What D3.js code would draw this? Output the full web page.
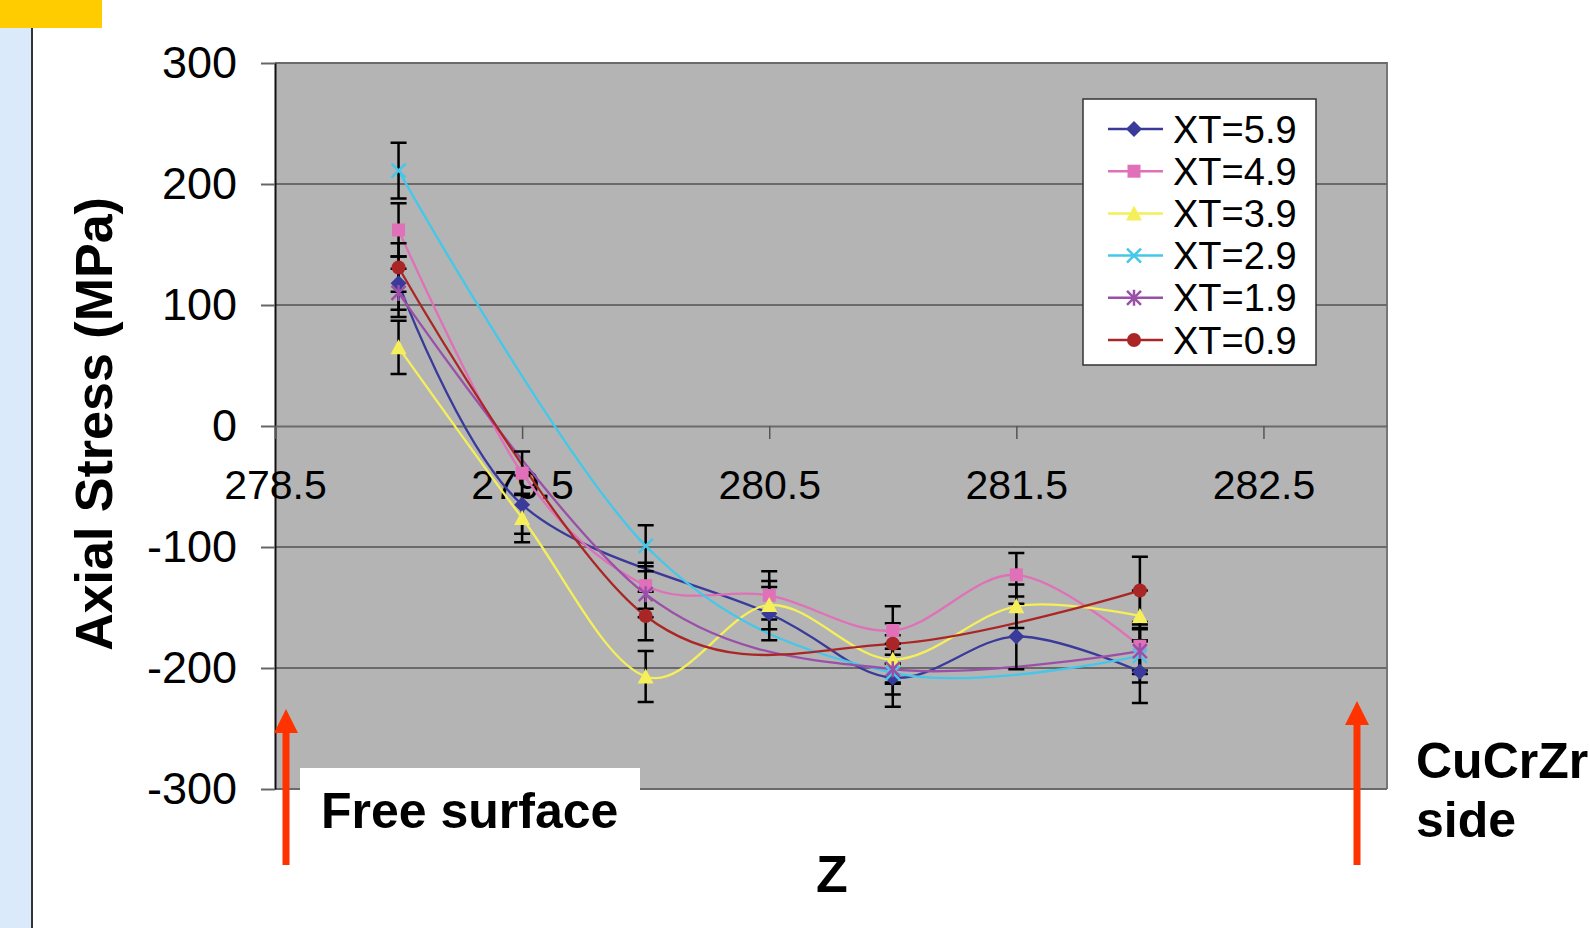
<!DOCTYPE html>
<html>
<head>
<meta charset="utf-8">
<script src="https://cdn.jsdelivr.net/npm/d3@7"></script>
<style>
  body { margin: 0; background: #fff; }
  svg { display: block; font-family: "Liberation Sans", Arial, sans-serif; }
</style>
</head>
<body>
<div id="chart"></div>
<script>
// Z positions of the measurement points
var zValues = [279, 279.5, 280, 280.5, 281, 281.5, 282];
var xTicks = [278.5, 279.5, 280.5, 281.5, 282.5];
var yTicks = [-300, -200, -100, 0, 100, 200, 300];

// axial stress (MPa) per series, null = no measurement
var seriesNames = ["XT=5.9", "XT=4.9", "XT=3.9", "XT=2.9", "XT=1.9", "XT=0.9"];
var xt59 = [118, -65, null, -155, -208, -174, -203];
var xt49 = [162, -39, -132, -140, -169, -123, -182];
var xt39 = [65, -76, -207, -148, -193, -149, -157];
var xt29 = [211, null, -99, null, -204, null, -190];
var xt19 = [110, null, -139, null, -201, null, -186];
var xt09 = [131, null, -157, null, -180, null, -136];

// error bar half-widths (MPa)
var err59 = [22, 24, null, 22, 24, 27, 26];
var err49 = [22, 18, 19, 20, 20, 18, 20];
var err39 = [22, 20, 21, 20, 20, 18, 21];
var err29 = [23, null, 17, null, 8, null, 22];
var err19 = [20, null, 19, null, 21, null, 19];
var err09 = [20, null, 20, null, 17, null, 28];

var colors = ["#3a3a9a", "#e070b8", "#f5ef5a", "#44c8ea", "#9a4fa8", "#aa2626"];
var markers = ["diamond", "square", "triangle", "x", "star", "circle"];

var width = 1590, height = 928;
var svg = d3.select("#chart").append("svg")
    .attr("width", width)
    .attr("height", height);

// slide decorations
svg.append("rect").attr("x", 0).attr("y", 28).attr("width", 31).attr("height", height - 28).attr("fill", "#dbeafb");
svg.append("rect").attr("x", 0).attr("y", 0).attr("width", 102).attr("height", 28).attr("fill", "#ffcc00");
svg.append("line").attr("x1", 32).attr("x2", 32).attr("y1", 28).attr("y2", height)
    .attr("stroke", "#333").attr("stroke-width", 2);

var x = d3.scaleLinear().domain([278.5, 283]).range([275, 1387]);
var y = d3.scaleLinear().domain([-300, 300]).range([789, 63]);

// plot area
svg.append("rect")
    .attr("x", x(278.5)).attr("y", y(300))
    .attr("width", x(283) - x(278.5)).attr("height", y(-300) - y(300))
    .attr("fill", "#b4b4b4");
svg.append("path")
    .attr("d", "M" + x(278.5) + "," + y(300) + "H" + x(283) + "V" + y(-300))
    .attr("fill", "none").attr("stroke", "#777").attr("stroke-width", 2);

// gridlines
svg.append("g").selectAll("line")
    .data(yTicks.filter(function (d) { return d !== 0; }))
    .enter().append("line")
    .attr("x1", x(278.5)).attr("x2", x(283))
    .attr("y1", function (d) { return y(d); })
    .attr("y2", function (d) { return y(d); })
    .attr("stroke", "#6a6a6a").attr("stroke-width", 2);

// y axis
var axisY = svg.append("g")
    .attr("transform", "translate(" + x(278.5) + ",0)")
    .call(d3.axisLeft(y).tickValues(yTicks).tickFormat(function (d) { return String(d); })
        .tickSize(14).tickPadding(24).tickSizeOuter(0));
axisY.select(".domain").attr("stroke", "#111").attr("stroke-width", 2);
axisY.selectAll(".tick line").attr("stroke", "#666").attr("stroke-width", 2);
axisY.selectAll("text").attr("font-size", 45).attr("fill", "#000")
    .attr("font-family", "Liberation Sans, Arial, sans-serif");

// x axis along zero
var axisX = svg.append("g")
    .attr("transform", "translate(0," + y(0) + ")")
    .call(d3.axisBottom(x).tickValues(xTicks).tickFormat(d3.format(".1f"))
        .tickSize(13).tickPadding(31).tickSizeOuter(0));
axisX.select(".domain").attr("stroke", "#6a6a6a").attr("stroke-width", 2);
axisX.selectAll(".tick line").attr("stroke", "#555").attr("stroke-width", 1.5);
axisX.selectAll("text").attr("font-size", 41).attr("fill", "#000")
    .attr("font-family", "Liberation Sans, Arial, sans-serif");

// white label box covering plot bottom
svg.append("rect").attr("x", 300).attr("y", 768).attr("width", 340).attr("height", 90).attr("fill", "#fff");

var allValues = [xt59, xt49, xt39, xt29, xt19, xt09];
var allErrors = [err59, err49, err39, err29, err19, err09];

var series = allValues.map(function (vals, i) {
    var pts = [];
    vals.forEach(function (v, j) {
        if (v !== null) pts.push({z: zValues[j], v: v, e: allErrors[i][j]});
    });
    return {name: seriesNames[i], color: colors[i], marker: markers[i], points: pts};
});

var line = d3.line()
    .x(function (d) { return x(d.z); })
    .y(function (d) { return y(d.v); })
    .curve(d3.curveCardinal.tension(0));

var plot = svg.append("g");

plot.selectAll(".series-line")
    .data(series)
    .enter().append("path")
    .attr("class", "series-line")
    .attr("d", function (d) { return line(d.points); })
    .attr("fill", "none")
    .attr("stroke", function (d) { return d.color; })
    .attr("stroke-width", 2.3);

// error bars
series.forEach(function (s) {
    var g = plot.append("g");
    s.points.forEach(function (p) {
        var cx = x(p.z), top = y(p.v + p.e), bot = y(p.v - p.e);
        g.append("path")
            .attr("d", "M" + cx + "," + top + "V" + bot +
                "M" + (cx - 8) + "," + top + "H" + (cx + 8) +
                "M" + (cx - 8) + "," + bot + "H" + (cx + 8))
            .attr("stroke", "#000").attr("stroke-width", 2.5).attr("fill", "none");
    });
});

function drawMarker(g, type, color, cx, cy) {
    var r = 8;
    if (type === "diamond") {
        g.append("path").attr("d", "M" + cx + "," + (cy - r) + "L" + (cx + r) + "," + cy +
            "L" + cx + "," + (cy + r) + "L" + (cx - r) + "," + cy + "Z").attr("fill", color);
    } else if (type === "square") {
        g.append("rect").attr("x", cx - 6.5).attr("y", cy - 6.5).attr("width", 13).attr("height", 13).attr("fill", color);
    } else if (type === "triangle") {
        g.append("path").attr("d", "M" + cx + "," + (cy - r) + "L" + (cx + r) + "," + (cy + 7) +
            "L" + (cx - r) + "," + (cy + 7) + "Z").attr("fill", color);
    } else if (type === "x") {
        g.append("path").attr("d", "M" + (cx - 7) + "," + (cy - 7) + "L" + (cx + 7) + "," + (cy + 7) +
            "M" + (cx + 7) + "," + (cy - 7) + "L" + (cx - 7) + "," + (cy + 7))
            .attr("stroke", color).attr("stroke-width", 2.5);
    } else if (type === "star") {
        g.append("path").attr("d", "M" + (cx - 7) + "," + (cy - 7) + "L" + (cx + 7) + "," + (cy + 7) +
            "M" + (cx + 7) + "," + (cy - 7) + "L" + (cx - 7) + "," + (cy + 7) +
            "M" + cx + "," + (cy - 8) + "V" + (cy + 8))
            .attr("stroke", color).attr("stroke-width", 2.5);
    } else {
        g.append("circle").attr("cx", cx).attr("cy", cy).attr("r", 7).attr("fill", color);
    }
}

series.forEach(function (s) {
    var g = plot.append("g");
    s.points.forEach(function (p) {
        drawMarker(g, s.marker, s.color, x(p.z), y(p.v));
    });
});

// legend
var legend = svg.append("g").attr("transform", "translate(1083,99)");
legend.append("rect").attr("width", 233).attr("height", 266)
    .attr("fill", "#fff").attr("stroke", "#333").attr("stroke-width", 1.5);
series.forEach(function (s, i) {
    var cy = 30 + i * 42.2;
    legend.append("line").attr("x1", 25).attr("x2", 80).attr("y1", cy).attr("y2", cy)
        .attr("stroke", s.color).attr("stroke-width", 2.5);
    drawMarker(legend, s.marker, s.color, 51, cy);
    legend.append("text").attr("x", 90).attr("y", cy).attr("dy", "0.36em")
        .attr("font-size", 38).text(s.name);
});

// axis titles
svg.append("text")
    .attr("transform", "translate(112,424) rotate(-90)")
    .attr("text-anchor", "middle")
    .attr("font-size", 52).attr("font-weight", "bold")
    .text("Axial Stress (MPa)");
svg.append("text")
    .attr("x", 832).attr("y", 892)
    .attr("text-anchor", "middle")
    .attr("font-size", 52).attr("font-weight", "bold")
    .text("Z");

// annotations
function arrow(ax, tipY, bottomY) {
    svg.append("path")
        .attr("d", "M" + ax + "," + bottomY + "V" + (tipY + 20))
        .attr("stroke", "#ff3300").attr("stroke-width", 7);
    svg.append("path")
        .attr("d", "M" + ax + "," + tipY + "L" + (ax + 12) + "," + (tipY + 24) +
            "L" + (ax - 12) + "," + (tipY + 24) + "Z")
        .attr("fill", "#ff3300");
}
arrow(286, 709, 865);
arrow(1357, 701, 865);

svg.append("text").attr("x", 321).attr("y", 828)
    .attr("font-size", 50).attr("font-weight", "bold").text("Free surface");
svg.append("text").attr("x", 1416).attr("y", 778)
    .attr("font-size", 50).attr("font-weight", "bold").text("CuCrZr");
svg.append("text").attr("x", 1416).attr("y", 837)
    .attr("font-size", 50).attr("font-weight", "bold").text("side");
</script>
</body>
</html>
